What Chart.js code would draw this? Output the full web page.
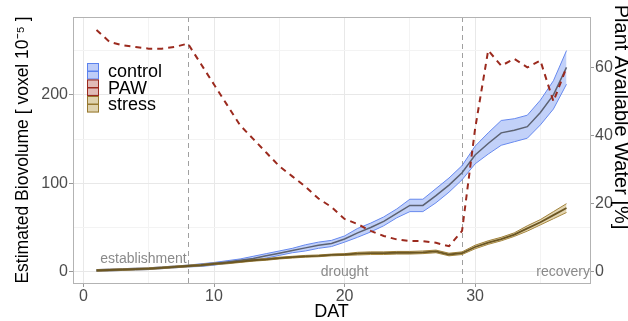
<!DOCTYPE html>
<html>
<head>
<meta charset="utf-8">
<script src="https://cdn.jsdelivr.net/npm/chart.js@4.4.1/dist/chart.umd.min.js"></script>
<style>
  body { margin: 0; background: #fff; }
  canvas { display: block; }
</style>
</head>
<body>
<canvas id="bioChart" width="628" height="321"></canvas>
<script>
// Biovolume (control / stress) and plant available water over DAT

const days = [1, 2, 3, 4, 5, 6, 7, 8, 9, 10, 11, 12, 13, 14, 15, 16, 17, 18, 19, 20,
              21, 22, 23, 24, 25, 26, 27, 28, 29, 30, 31, 32, 33, 34, 35, 36, 37];

const controlMean = [1.5, 2, 2.5, 3, 3.5, 4.5, 5.5, 6.5, 7.5, 9, 11, 13, 15, 18, 21, 24, 27, 30, 32, 37,
                     44, 50, 57, 66, 75, 75, 86, 98, 112, 132, 145, 157, 160, 164, 180, 200, 231];
const controlLow = [0.5, 1, 1.5, 2, 2.5, 3.5, 4.5, 5.5, 6, 7.5, 9.5, 11.5, 12.5, 15.5, 18.5, 21.5, 23.5, 26.5, 28.5, 33.5,
                    39, 45, 52, 61, 68, 68, 78, 90, 104, 122, 133, 143, 147, 151, 166, 184, 212];
const controlHigh = [2.5, 3, 3.5, 4, 4.5, 5.5, 6.5, 7.5, 9, 10.5, 12.5, 14.5, 17.5, 20.5, 23.5, 26.5, 30.5, 33.5, 35.5, 40.5,
                     49, 55, 62, 71, 82, 82, 94, 106, 120, 142, 157, 171, 173, 177, 194, 216, 250];

const stressMean = [1.5, 2, 2.5, 3, 3.5, 4.5, 5.5, 6.5, 7.5, 9, 10, 11.5, 13, 14, 15.5, 16.5, 17.5, 18, 19, 19.5,
                    20.5, 21, 21, 21.5, 21.5, 22, 23, 19.5, 21, 28, 33, 37, 42, 49, 56, 64, 72];
const stressLow = [0.5, 1, 1.5, 2, 2.5, 3.5, 4.5, 5.5, 6.5, 8, 9, 10.5, 12, 13, 14.5, 15.5, 16.5, 17, 18, 18.5,
                   19, 19.5, 19.5, 20, 20, 20.5, 21.5, 18, 19.5, 26, 31, 35, 40, 46, 53, 60, 67];
const stressHigh = [2.5, 3, 3.5, 4, 4.5, 5.5, 6.5, 7.5, 8.5, 10, 11, 12.5, 14, 15, 16.5, 17.5, 18.5, 19, 20, 20.5,
                    22, 22.5, 22.5, 23, 23, 23.5, 24.5, 21, 22.5, 30, 35, 39, 44, 52, 59, 68, 77];

const paw = [71, 67.5, 66.5, 66, 65.5, 65.5, 66, 67, 61, 55, 49, 43, 39, 35, 31, 28, 25, 21.5, 19, 15.5,
             14, 12, 10.5, 9.5, 9, 9, 8.5, 7.5, 12, 42, 65, 60.5, 62.5, 60, 62, 50, 60];

const xTicks = [0, 5, 10, 15, 20, 25, 30, 35];
const yTicks = [0, 50, 100, 150, 200, 250];
const pawTicks = [0, 20, 40, 60];

const phaseLines = [8, 29];
const phaseLabels = [
    { text: "establishment", x: 4.6, y: 14.5, align: "center" },
    { text: "drought", x: 20, y: 0, align: "center" },
    { text: "recovery", x: 38.8, y: 0, align: "right" }
];

const legendItems = [
    { label: "control", fill: "rgba(110,145,240,0.45)", line: "#5b82ee" },
    { label: "PAW", fill: "rgba(170,60,50,0.35)", line: "#9b2a1e" },
    { label: "stress", fill: "rgba(185,155,75,0.45)", line: "#97782f" }
];

const toXY = (xs, ys) => xs.map((d, i) => ({ x: d, y: ys[i] }));

const FONT = "'Liberation Sans', Arial, sans-serif";

const extrasPlugin = {
    id: "extras",
    beforeDatasetsDraw(chart) {
        const { ctx, chartArea, scales } = chart;
        ctx.save();
        ctx.strokeStyle = "#a0a0a0";
        ctx.lineWidth = 1;
        ctx.setLineDash([5, 4]);
        phaseLines.forEach(d => {
            const px = Math.round(scales.x.getPixelForValue(d)) + 0.5;
            ctx.beginPath();
            ctx.moveTo(px, chartArea.top);
            ctx.lineTo(px, chartArea.bottom);
            ctx.stroke();
        });
        ctx.restore();
    },
    afterDatasetsDraw(chart) {
        const { ctx, chartArea, scales } = chart;
        ctx.save();
        // phase labels
        ctx.font = "14px " + FONT;
        ctx.fillStyle = "#8a8a8a";
        ctx.textBaseline = "middle";
        phaseLabels.forEach(p => {
            ctx.textAlign = p.align;
            ctx.fillText(p.text, scales.x.getPixelForValue(p.x), scales.y.getPixelForValue(p.y));
        });
        // panel border
        ctx.strokeStyle = "#b3b3b3";
        ctx.lineWidth = 1;
        ctx.strokeRect(Math.round(chartArea.left) + 0.5, Math.round(chartArea.top) + 0.5,
            Math.round(chartArea.right - chartArea.left), Math.round(chartArea.bottom - chartArea.top));
        // legend inside panel
        const kx = 87, ky = 63, kw = 12, kh = 16.5;
        ctx.font = "18px " + FONT;
        ctx.textAlign = "left";
        legendItems.forEach((it, i) => {
            const y0 = ky + i * kh;
            ctx.fillStyle = it.fill;
            ctx.fillRect(kx, y0, kw, kh);
            ctx.strokeStyle = it.line;
            ctx.lineWidth = 1;
            ctx.strokeRect(kx + 0.5, y0 + 0.5, kw - 1, kh - 1);
            ctx.lineWidth = 1.5;
            ctx.beginPath();
            ctx.moveTo(kx, y0 + kh / 2);
            ctx.lineTo(kx + kw, y0 + kh / 2);
            ctx.stroke();
            ctx.fillStyle = "#000";
            ctx.fillText(it.label, 108, y0 + kh / 2 + 1);
        });
        // right axis title
        ctx.translate(621, 117);
        ctx.rotate(Math.PI / 2);
        ctx.font = "20px " + FONT;
        ctx.textAlign = "center";
        ctx.fillStyle = "#000";
        ctx.fillText("Plant Available Water [%]", 0, 0);
        ctx.restore();
    }
};

const gridColor = c => (c.tick && c.tick.value % 100 === 0) ? "#e8e8e8" : "#f3f3f3";

new Chart(document.getElementById("bioChart"), {
    type: "line",
    data: {
        datasets: [
            {
                label: "PAW",
                data: toXY(days, paw),
                yAxisID: "y1",
                borderColor: "#9b2a1e",
                borderWidth: 2,
                borderDash: [6, 5],
                pointRadius: 0,
                fill: false
            },
            {
                label: "stress",
                data: toXY(days, stressMean),
                borderColor: "#6b5622",
                borderWidth: 1.8,
                pointRadius: 0,
                fill: false
            },
            {
                label: "control",
                data: toXY(days, controlMean),
                borderColor: "#5c6272",
                borderWidth: 1.5,
                pointRadius: 0,
                fill: false
            },
            {
                label: "stress high",
                data: toXY(days, stressHigh),
                borderColor: "#a0823c",
                borderWidth: 1,
                backgroundColor: "rgba(190,160,80,0.45)",
                pointRadius: 0,
                fill: "+1"
            },
            {
                label: "stress low",
                data: toXY(days, stressLow),
                borderColor: "#a0823c",
                borderWidth: 1,
                pointRadius: 0,
                fill: false
            },
            {
                label: "control high",
                data: toXY(days, controlHigh),
                borderColor: "#6688ee",
                borderWidth: 1,
                backgroundColor: "rgba(110,145,240,0.42)",
                pointRadius: 0,
                fill: "+1"
            },
            {
                label: "control low",
                data: toXY(days, controlLow),
                borderColor: "#6688ee",
                borderWidth: 1,
                pointRadius: 0,
                fill: false
            }
        ]
    },
    options: {
        responsive: false,
        animation: false,
        layout: { padding: { top: 17, left: 0, right: 0, bottom: 0 } },
        plugins: {
            legend: { display: false },
            tooltip: { enabled: false }
        },
        scales: {
            x: {
                type: "linear",
                min: -0.8,
                max: 38.8,
                afterBuildTicks: s => { s.ticks = xTicks.map(v => ({ value: v })); },
                afterFit: s => { s.height = 38; },
                ticks: {
                    callback: v => (v % 10 === 0 ? v : ""),
                    color: "#4d4d4d",
                    font: { family: FONT, size: 16 },
                    padding: 0,
                    maxRotation: 0
                },
                grid: {
                    color: c => (c.tick && c.tick.value % 10 === 0) ? "#e8e8e8" : "#f3f3f3",
                    tickColor: c => (c.tick && c.tick.value % 10 === 0) ? "#999" : "rgba(0,0,0,0)",
                    tickLength: 4
                },
                border: { display: false },
                title: {
                    display: true,
                    text: "DAT",
                    color: "#000",
                    font: { family: FONT, size: 18 },
                    padding: { top: 0, bottom: -2 }
                }
            },
            y: {
                position: "left",
                min: -12.7,
                max: 288,
                afterBuildTicks: s => { s.ticks = yTicks.map(v => ({ value: v })); },
                afterFit: s => { s.width = 73; },
                ticks: {
                    callback: v => (v % 100 === 0 ? v : ""),
                    color: "#4d4d4d",
                    font: { family: FONT, size: 16 },
                    padding: 1
                },
                grid: {
                    color: gridColor,
                    tickColor: c => (c.tick && c.tick.value % 100 === 0) ? "#999" : "rgba(0,0,0,0)",
                    tickLength: 4
                },
                border: { display: false },
                title: {
                    display: true,
                    text: "Estimated Biovolume [ voxel 10⁻⁵ ]",
                    color: "#000",
                    font: { family: FONT, size: 17.5 },
                    padding: { top: 13, bottom: 0 }
                }
            },
            y1: {
                position: "right",
                min: -3.3,
                max: 74.8,
                afterBuildTicks: s => { s.ticks = pawTicks.map(v => ({ value: v })); },
                afterFit: s => { s.width = 38; },
                ticks: {
                    color: "#4d4d4d",
                    font: { family: FONT, size: 16 },
                    padding: 1
                },
                grid: {
                    drawOnChartArea: false,
                    tickColor: "#999",
                    tickLength: 4
                },
                border: { display: false },
                title: { display: false }
            }
        }
    },
    plugins: [extrasPlugin]
});
</script>
</body>
</html>
